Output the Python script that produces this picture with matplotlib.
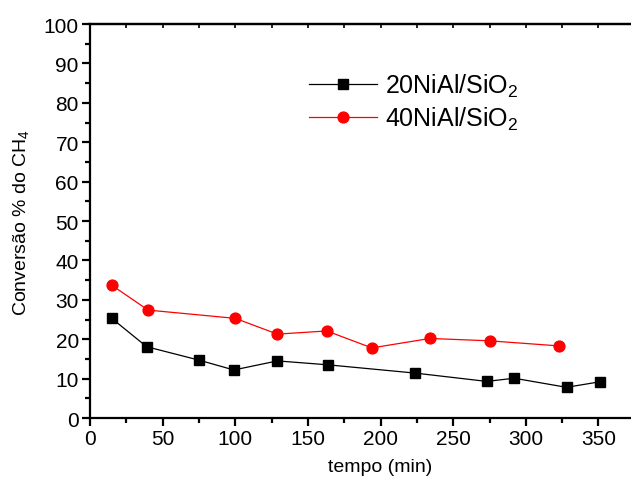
' Conversion of CH4 versus time for two NiAl/SiO2 catalysts '

import matplotlib
matplotlib.use('Agg')
import matplotlib.pyplot as plt
from matplotlib.ticker import MultipleLocator, FixedLocator

# 20NiAl/SiO2
time_20 = [15, 39, 75, 99, 129, 164, 224, 273, 292, 328, 351]
conv_20 = [25.3, 18.1, 14.7, 12.2, 14.5, 13.5, 11.4, 9.3, 10.1, 7.8, 9.2]

# 40NiAl/SiO2
time_40 = [15, 40, 100, 129, 163, 194, 234, 275, 323]
conv_40 = [33.7, 27.4, 25.3, 21.3, 22.1, 17.8, 20.2, 19.6, 18.3]

labels = ['20NiAl/SiO$_2$', '40NiAl/SiO$_2$']
x_ticks = [0, 50, 100, 150, 200, 250, 300, 350]


def main():
    ' draw and save '
    plt.rcParams['font.family'] = ['Liberation Sans', 'DejaVu Sans']
    plt.rcParams['mathtext.fontset'] = 'custom'
    plt.rcParams['mathtext.rm'] = 'Liberation Sans'
    plt.rcParams['mathtext.it'] = 'Liberation Sans'

    fig = plt.figure(figsize=(6.31, 4.85), dpi=100)
    # axes run past the right edge, the original picture is cropped there
    ax = fig.add_axes([0.1426, 0.136, 0.921, 0.8124])

    ax.plot(time_20, conv_20, '-s', color='black', linewidth=0.9,
            markersize=7, label=labels[0])
    ax.plot(time_40, conv_40, '-o', color='red', linewidth=0.9,
            markersize=7.8, label=labels[1])

    ax.set_xlim(0, 400)
    ax.set_ylim(0, 100)
    ax.xaxis.set_major_locator(FixedLocator(x_ticks))
    ax.xaxis.set_minor_locator(FixedLocator([t + 25 for t in x_ticks]))
    ax.yaxis.set_major_locator(MultipleLocator(10))
    ax.yaxis.set_minor_locator(MultipleLocator(5))

    for side in ['left', 'bottom', 'top', 'right']:
        ax.spines[side].set_linewidth(1.6)

    ax.tick_params(which='major', direction='out', length=6, width=1.6,
                   labelsize=15, pad=2)
    ax.tick_params(which='minor', direction='out', length=3.5, width=1.6)

    # small inward ticks along the top frame
    top = ax.secondary_xaxis('top')
    top.xaxis.set_major_locator(MultipleLocator(25))
    top.tick_params(direction='in', length=3, width=1.2, labeltop=False)
    top.spines['top'].set_linewidth(1.6)

    ax.set_xlabel('tempo (min)', fontsize=14, labelpad=7)
    ax.set_ylabel('Conversão % do CH$_4$', fontsize=14, labelpad=9)

    ax.legend(loc='center left', bbox_to_anchor=(309 / 631, 1 - 103 / 485),
              bbox_transform=fig.transFigure, frameon=False, fontsize=18,
              handlelength=2.7, handletextpad=0.35, labelspacing=0.25,
              borderpad=0, borderaxespad=0)

    fig.savefig('out.png', dpi=100)


if __name__ == '__main__':
    main()
